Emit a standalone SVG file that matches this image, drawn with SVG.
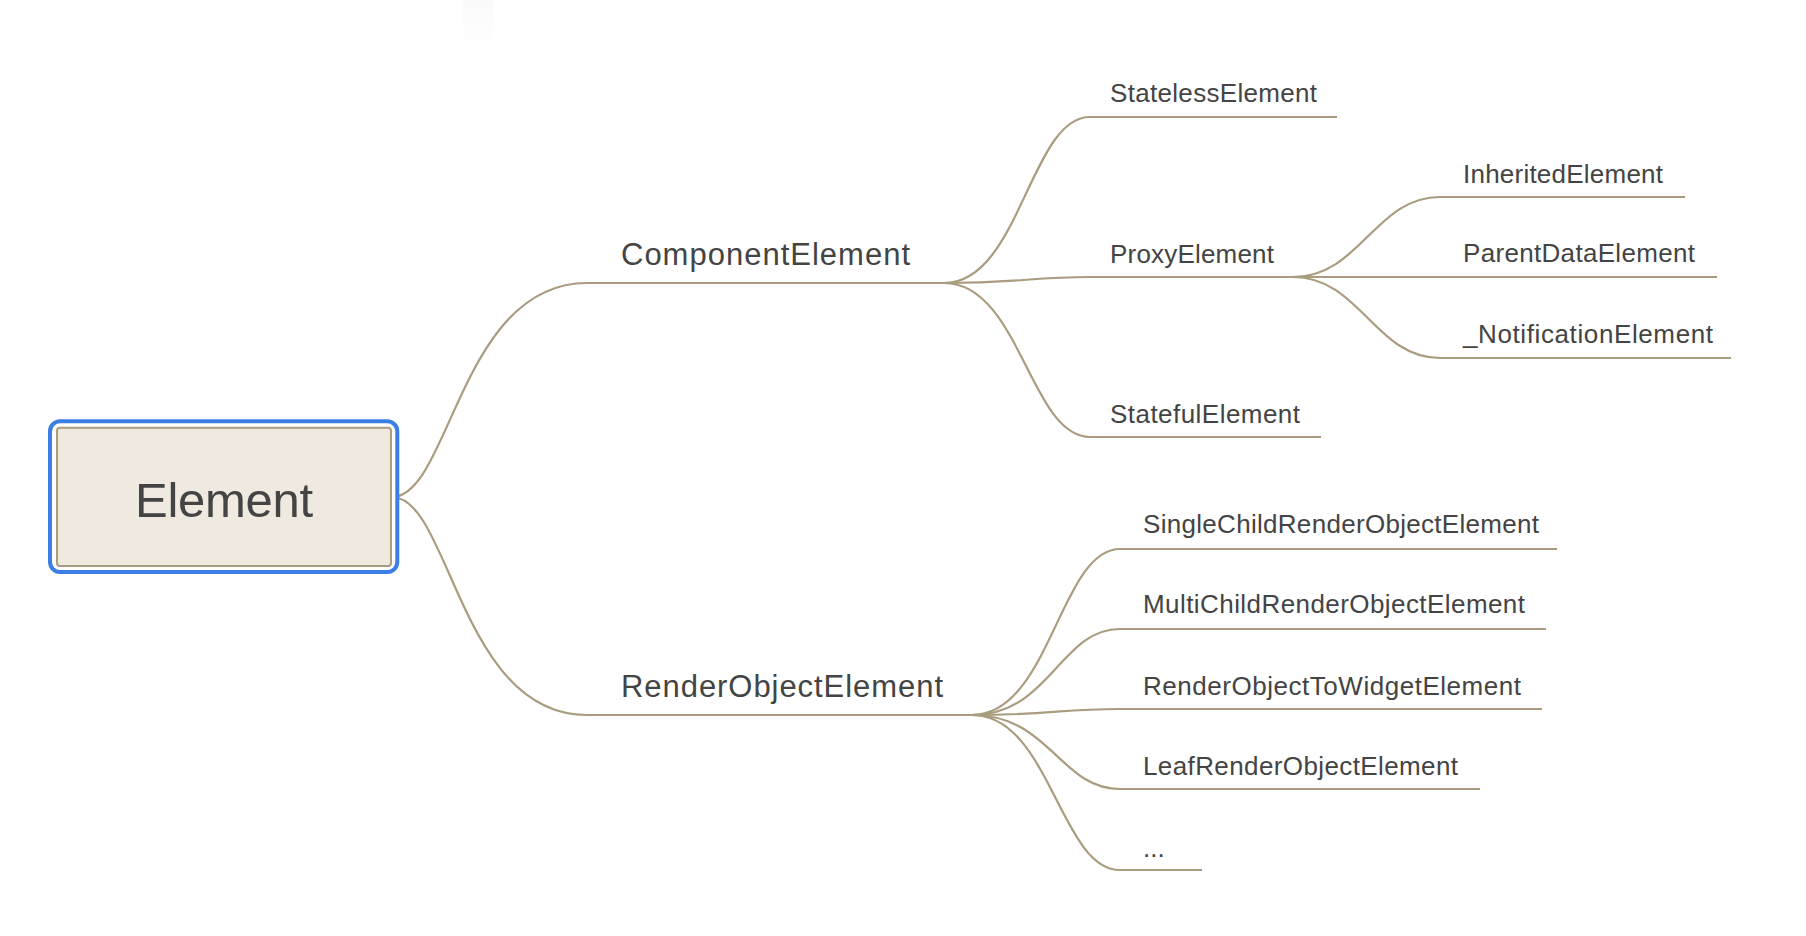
<svg xmlns="http://www.w3.org/2000/svg" width="1806" height="936" viewBox="0 0 1806 936">
  <style>
    .conn { fill: none; stroke: #A99C7F; stroke-width: 2.2; stroke-linecap: round; }
    .ul { fill: none; stroke: #A99C7F; stroke-width: 2.2; stroke-linecap: butt; }
    .txt { font-family: "Liberation Sans", Arial, Helvetica, sans-serif; fill: #444444; }
    .t0 { font-size: 49px; }
    .t1 { font-size: 31px; }
    .t2 { font-size: 26px; }
  </style>
  <defs>
    <linearGradient id="ghost" x1="0" y1="0" x2="0" y2="1">
      <stop offset="0" stop-color="#f9f9f9"/>
      <stop offset="1" stop-color="#ffffff"/>
    </linearGradient>
  </defs>
  <rect width="1806" height="936" fill="#ffffff"/>
  <rect x="463" y="-10" width="30" height="58" rx="12" fill="url(#ghost)"/>

  <g id="connectors">
    <path class="conn" d="M392,497 C450,497 460,283 587,283"/>
    <path class="conn" d="M392,497 C450,497 460,715 587,715"/>
    <path class="conn" d="M944,283 C1020,283 1030,117 1090,117"/>
    <path class="conn" d="M944,283 C1020,283 1030,277 1090,277"/>
    <path class="conn" d="M944,283 C1020,283 1030,437 1090,437"/>
    <path class="conn" d="M1293,277 C1360,277 1375,197 1440,197"/>
    <path class="conn" d="M1293,277 L1440,277"/>
    <path class="conn" d="M1293,277 C1360,277 1375,358 1440,358"/>
    <path class="conn" d="M972,715 C1050,715 1060,549 1120,549"/>
    <path class="conn" d="M972,715 C1050,715 1060,629 1120,629"/>
    <path class="conn" d="M972,715 C1050,715 1060,709 1120,709"/>
    <path class="conn" d="M972,715 C1050,715 1060,789 1120,789"/>
    <path class="conn" d="M972,715 C1050,715 1060,870 1120,870"/>
  </g>

  <g id="node-element">
    <rect x="50" y="421.3" width="347.3" height="150.7" rx="10" fill="#ffffff" stroke="#3A7EE6" stroke-width="4"/>
    <rect x="57" y="427.7" width="334" height="138.3" rx="3" fill="#EFE9DF" stroke="#A99C7F" stroke-width="2"/>
    <text class="txt t0" x="135" y="517" textLength="178">Element</text>
  </g>

  <g id="node-component-element">
    <path class="ul" d="M587,283 H944"/>
    <text class="txt t1" x="621" y="265" textLength="289">ComponentElement</text>
  </g>

  <g id="node-render-object-element">
    <path class="ul" d="M587,715 H972"/>
    <text class="txt t1" x="621" y="697" textLength="322">RenderObjectElement</text>
  </g>

  <g id="node-stateless-element">
    <path class="ul" d="M1090,117 H1337"/>
    <text class="txt t2" x="1110" y="102" textLength="207">StatelessElement</text>
  </g>

  <g id="node-proxy-element">
    <path class="ul" d="M1090,277 H1293"/>
    <text class="txt t2" x="1110" y="263" textLength="164">ProxyElement</text>
  </g>

  <g id="node-stateful-element">
    <path class="ul" d="M1090,437 H1321"/>
    <text class="txt t2" x="1110" y="423" textLength="190">StatefulElement</text>
  </g>

  <g id="node-inherited-element">
    <path class="ul" d="M1440,197 H1685"/>
    <text class="txt t2" x="1463" y="183" textLength="200">InheritedElement</text>
  </g>

  <g id="node-parent-data-element">
    <path class="ul" d="M1440,277 H1717"/>
    <text class="txt t2" x="1463" y="262" textLength="232">ParentDataElement</text>
  </g>

  <g id="node-notification-element">
    <path class="ul" d="M1440,358 H1731"/>
    <text class="txt t2" x="1463" y="343" textLength="250">_NotificationElement</text>
  </g>

  <g id="node-single-child-render-object-element">
    <path class="ul" d="M1120,549 H1557"/>
    <text class="txt t2" x="1143" y="533" textLength="396">SingleChildRenderObjectElement</text>
  </g>

  <g id="node-multi-child-render-object-element">
    <path class="ul" d="M1120,629 H1546"/>
    <text class="txt t2" x="1143" y="613" textLength="382">MultiChildRenderObjectElement</text>
  </g>

  <g id="node-render-object-to-widget-element">
    <path class="ul" d="M1120,709 H1542"/>
    <text class="txt t2" x="1143" y="695" textLength="378">RenderObjectToWidgetElement</text>
  </g>

  <g id="node-leaf-render-object-element">
    <path class="ul" d="M1120,789 H1480"/>
    <text class="txt t2" x="1143" y="775" textLength="315">LeafRenderObjectElement</text>
  </g>

  <g id="node-more">
    <path class="ul" d="M1120,870 H1202"/>
    <text class="txt t2" x="1143" y="857">...</text>
  </g>
</svg>
